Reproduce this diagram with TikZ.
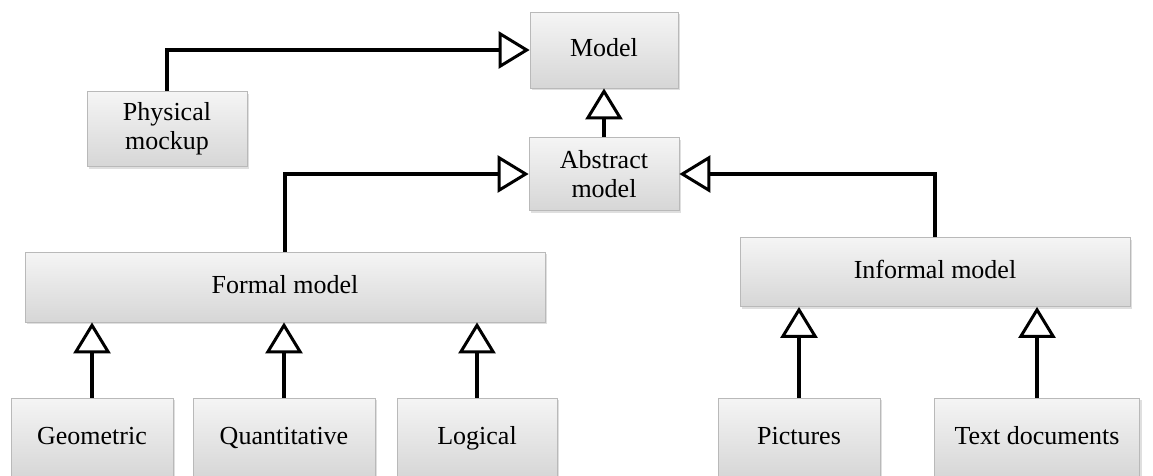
\documentclass[tikz,border=0pt]{standalone}
\usepackage{fontspec}
\setmainfont{Liberation Serif}
\usetikzlibrary{arrows.meta,shadows}
\begin{document}
\begin{tikzpicture}[x=1pt,y=-1pt,
  box/.style={draw=gray!55, line width=0.8pt, top color=gray!8, bottom color=gray!32,
    drop shadow={shadow xshift=2pt,shadow yshift=-2pt,opacity=0.25,fill=gray},
    inner sep=0pt, align=center,
    font=\fontsize{26}{29}\selectfont},
  one/.style={box, text height=18pt, text depth=6pt},
  conn/.style={line width=3.2pt, -{Triangle[open,length=31pt,width=37pt,line width=3pt]}}
]
\useasboundingbox (0,0) rectangle (1153,475);
\node[one, minimum width=148pt, minimum height=76pt] (model) at (604,50) {Model};
\node[box, minimum width=150pt, minimum height=73pt] (abs) at (604,174) {Abstract\\model};
\node[box, minimum width=160pt, minimum height=75pt] (phys) at (167,129) {Physical\\mockup};
\node[one, minimum width=520pt, minimum height=70pt] (formal) at (285,287) {Formal model};
\node[one, minimum width=390pt, minimum height=69pt] (informal) at (935,272) {Informal model};
\node[one, minimum width=162pt, minimum height=80pt] (geo) at (92,438) {Geometric};
\node[one, minimum width=182pt, minimum height=80pt] (quant) at (284,438) {Quantitative};
\node[one, minimum width=160pt, minimum height=80pt] (logic) at (477,438) {Logical};
\node[one, minimum width=162pt, minimum height=80pt] (pict) at (799,438) {Pictures};
\node[one, minimum width=205pt, minimum height=80pt] (text) at (1037,438) {Text documents};

\draw[conn] (phys.north) |- (model.west);
\draw[conn] (abs.north) -- (model.south);
\draw[conn] (formal.north) |- (abs.west);
\draw[conn] (informal.north) |- (abs.east);
\draw[conn] (geo.north) -- (geo.north |- formal.south);
\draw[conn] (quant.north) -- (quant.north |- formal.south);
\draw[conn] (logic.north) -- (logic.north |- formal.south);
\draw[conn] (pict.north) -- (pict.north |- informal.south);
\draw[conn] (text.north) -- (text.north |- informal.south);
\end{tikzpicture}
\end{document}
